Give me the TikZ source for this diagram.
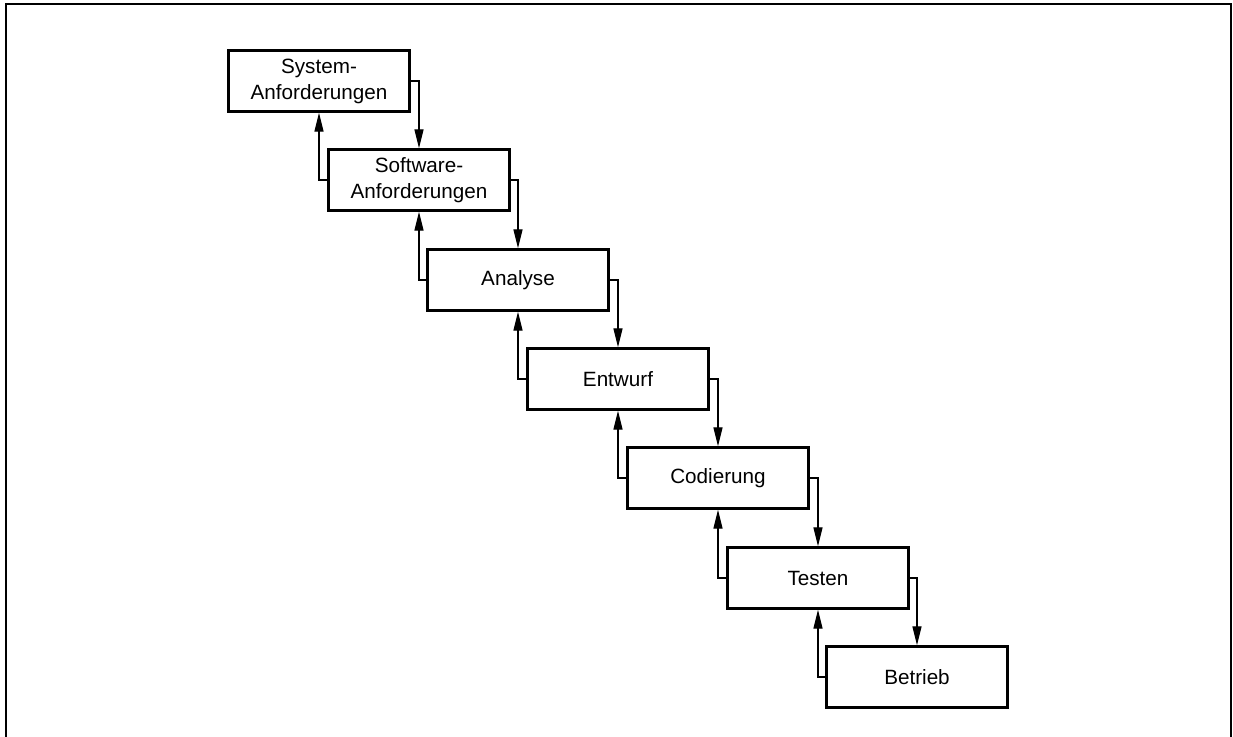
\documentclass[tikz,border=0pt]{standalone}
\usepackage{fontspec}
\setmainfont{Liberation Sans}
\usetikzlibrary{arrows.meta}
\begin{document}
\begin{tikzpicture}[x=0.75pt,y=-0.75pt,
  phase/.style={draw, line width=2.1pt, minimum width=181*0.75pt, minimum height=61*0.75pt,
    inner sep=0pt, align=center, font=\fontsize{15.5pt}{19.5pt}\selectfont},
  conn/.style={line width=0.8pt, -{Triangle[length=14pt,width=6.8pt]}},
  frame/.style={line width=1.9pt}]
  \useasboundingbox (0,0) rectangle (1233,737);
  % open frame around the diagram
  \draw[frame] (6,745) -- (6,4) -- (1231,4) -- (1231,745);
  % the phases, stepping down to the right
  \node[phase] (sys) at (319,81) {System-\\Anforderungen};
  \node[phase] (sw)  at (419,180) {Software-\\Anforderungen};
  \node[phase] (ana) at (518,280) {Analyse};
  \node[phase] (ent) at (618,379) {Entwurf};
  \node[phase] (cod) at (718,478) {Codierung};
  \node[phase] (tst) at (818,578) {Testen};
  \node[phase] (bet) at (917,677) {Betrieb};
  % forward and feedback connectors
  \foreach \a/\b in {sys/sw, sw/ana, ana/ent, ent/cod, cod/tst, tst/bet}{
    \draw[conn] (\a.east) -| (\b.north);
    \draw[conn] (\b.west) -| (\a.south);
  }
\end{tikzpicture}
\end{document}
